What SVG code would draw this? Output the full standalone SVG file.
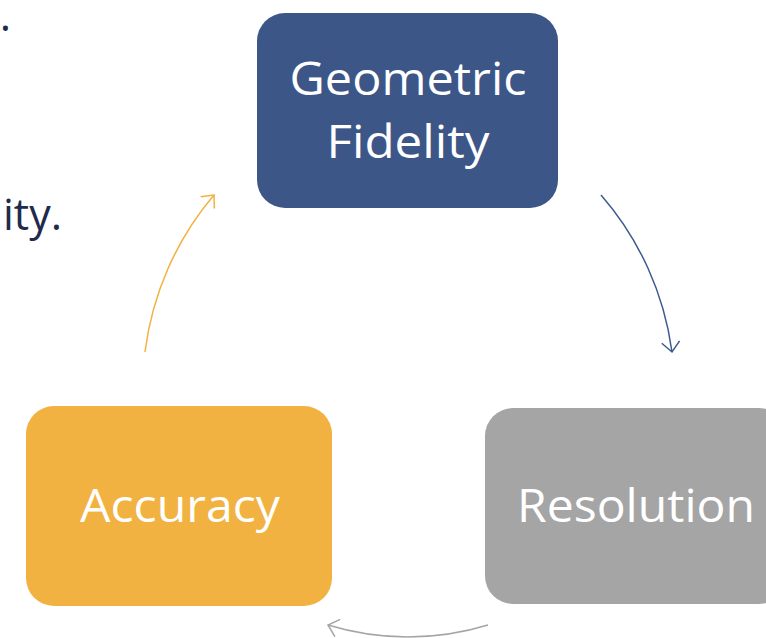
<svg xmlns="http://www.w3.org/2000/svg" width="766" height="638" viewBox="0 0 766 638">
<style>
.lbl{font-family:"Open Sans","Liberation Sans",sans-serif;font-size:46px;fill:#ffffff;text-anchor:middle}
.side{font-family:"Open Sans","Liberation Sans",sans-serif;font-size:43px;fill:#1f2b4d;text-anchor:end}
.conn{fill:none;stroke-width:1.5}
</style>
<defs>
<marker id="ab" viewBox="0 0 12 20" refX="11" refY="10" markerWidth="12" markerHeight="20" markerUnits="userSpaceOnUse" orient="auto"><path d="M1 1 L11 10 L1 19" fill="none" stroke="#3d5a8f" stroke-width="1.5"/></marker>
<marker id="ag" viewBox="0 0 12 20" refX="11" refY="10" markerWidth="12" markerHeight="20" markerUnits="userSpaceOnUse" orient="auto"><path d="M1 1 L11 10 L1 19" fill="none" stroke="#a5a5a5" stroke-width="1.5"/></marker>
<marker id="ao" viewBox="0 0 12 20" refX="11" refY="10" markerWidth="12" markerHeight="20" markerUnits="userSpaceOnUse" orient="auto"><path d="M1 1 L11 10 L1 19" fill="none" stroke="#f2b13f" stroke-width="1.5"/></marker>
</defs>
<text class="side" x="11" y="31">.</text>
<text class="side" x="62" y="230">ity.</text>
<g id="connectors">
<path class="conn" stroke="#3d5a8f" d="M601 195 A300 300 0 0 1 672 352" marker-end="url(#ab)"/>
<path class="conn" stroke="#a5a5a5" d="M488 625 A273 273 0 0 1 328 625" marker-end="url(#ag)"/>
<path class="conn" stroke="#f2b13f" d="M145 352 A300 300 0 0 1 214 195" marker-end="url(#ao)"/>
</g>
<g id="geometric-fidelity">
<rect x="257" y="13" width="301" height="195" rx="28" fill="#3c5688"/>
<text class="lbl" x="408" y="95" textLength="237" lengthAdjust="spacingAndGlyphs">Geometric</text>
<text class="lbl" x="408" y="158" textLength="163" lengthAdjust="spacingAndGlyphs">Fidelity</text>
</g>
<g id="resolution">
<rect x="485" y="408" width="302" height="196" rx="28" fill="#a5a5a5"/>
<text class="lbl" x="636" y="522" textLength="238" lengthAdjust="spacingAndGlyphs">Resolution</text>
</g>
<g id="accuracy">
<rect x="26" y="406" width="306" height="200" rx="28" fill="#f2b241"/>
<text class="lbl" x="180" y="522" textLength="200" lengthAdjust="spacingAndGlyphs">Accuracy</text>
</g>
</svg>
